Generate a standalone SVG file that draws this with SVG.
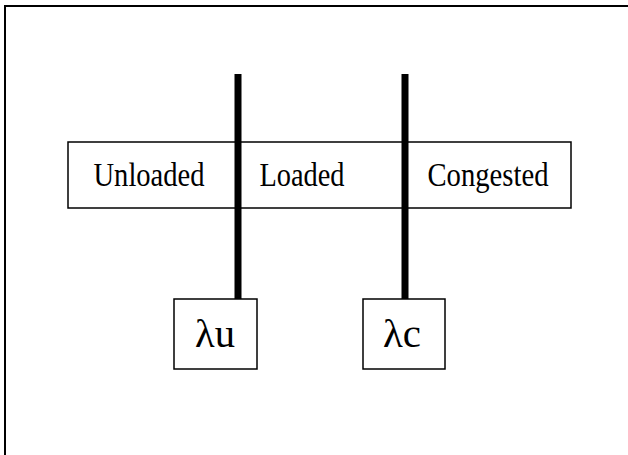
<svg xmlns="http://www.w3.org/2000/svg" width="628" height="455" viewBox="0 0 628 455">
<style>
.box{fill:#fff;stroke:#000;stroke-width:1.5}
.t{font-family:"Liberation Serif","Times New Roman",serif;font-size:34px;fill:#000;text-anchor:middle}
.l{font-family:"Liberation Serif","Times New Roman",serif;font-size:39px;fill:#000;text-anchor:middle}
.bar{stroke:#000;stroke-width:7;fill:none}
</style>
<rect x="0" y="0" width="628" height="455" fill="#fff"/>
<path d="M5,455 V6 H628" fill="none" stroke="#000" stroke-width="2"/>
<g id="states">
<rect class="box" x="68" y="142" width="503" height="66"/>
<text class="t" x="149" y="186" textLength="111" lengthAdjust="spacingAndGlyphs">Unloaded</text>
<text class="t" x="302" y="186" textLength="85" lengthAdjust="spacingAndGlyphs">Loaded</text>
<text class="t" x="488" y="186" textLength="121" lengthAdjust="spacingAndGlyphs">Congested</text>
</g>
<g id="lambda-u">
<rect class="box" x="174" y="299" width="83" height="70"/>
<text class="l" x="215" y="347" textLength="40" lengthAdjust="spacingAndGlyphs">λu</text>
</g>
<g id="lambda-c">
<rect class="box" x="363" y="299" width="82" height="70"/>
<text class="l" x="402" y="347" textLength="38" lengthAdjust="spacingAndGlyphs">λc</text>
</g>
<g id="connectors">
<line class="bar" x1="238" y1="74" x2="238" y2="299"/>
<line class="bar" x1="405" y1="74" x2="405" y2="299" stroke-width="8"/>
</g>
</svg>
